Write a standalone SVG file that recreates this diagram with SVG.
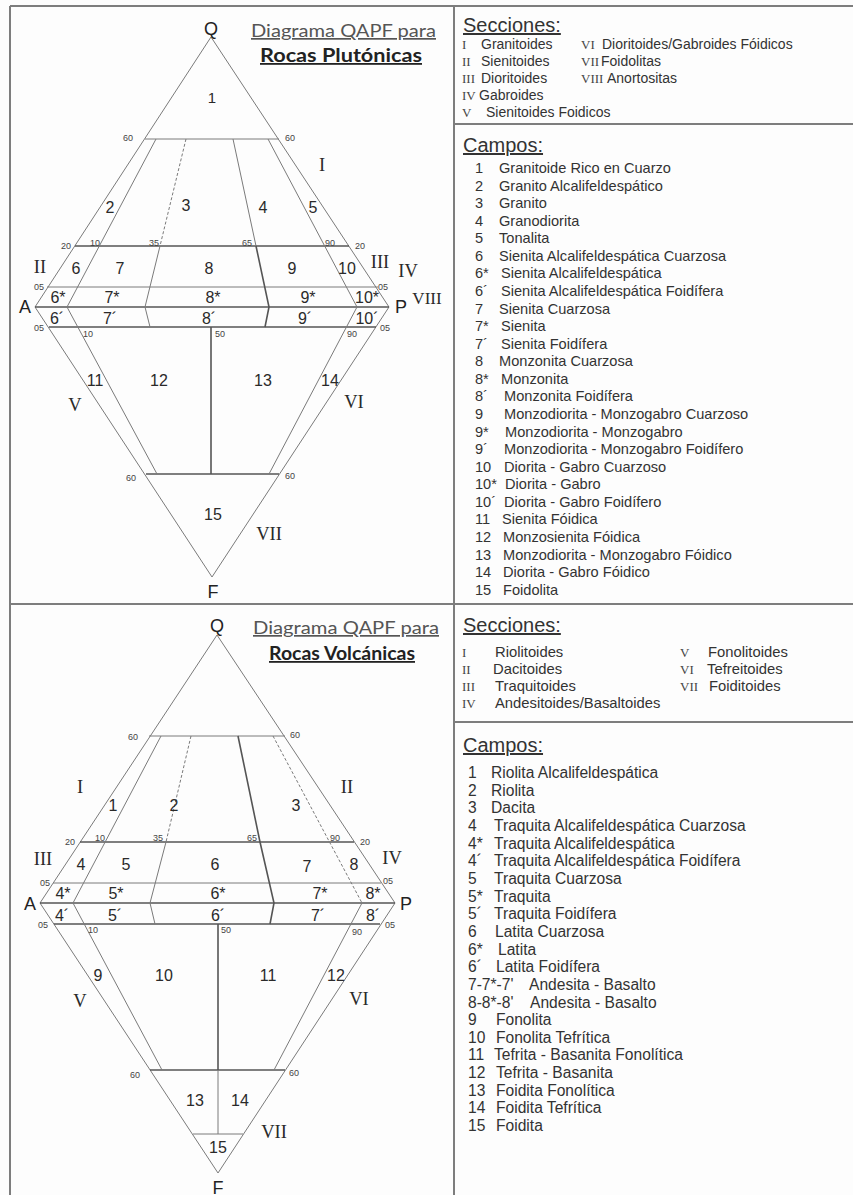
<svg xmlns="http://www.w3.org/2000/svg" width="853" height="1195" viewBox="0 0 853 1195">
<style>
.frame{stroke:#7d7d7d;stroke-width:2;fill:none}
.ln{stroke:#7a7a7a;stroke-width:1;fill:none}
.dk{stroke:#555;stroke-width:1.6;fill:none}
.ds{stroke:#7a7a7a;stroke-width:1;fill:none;stroke-dasharray:3 2}
.num{font-family:"Liberation Sans",Arial,sans-serif;font-size:16px;fill:#2a2a2a;text-anchor:middle}
.sm{font-family:"Liberation Sans",Arial,sans-serif;font-size:9px;fill:#444;text-anchor:middle}
.rom{font-family:"Liberation Serif","Times New Roman",serif;font-size:18.5px;fill:#2a2a2a;text-anchor:middle}
.ltr{font-family:"Liberation Sans",Arial,sans-serif;font-size:18px;fill:#222;text-anchor:middle}
.t1{font-family:Lato,"Open Sans",sans-serif;font-size:17px;fill:#555;text-anchor:middle;text-decoration:underline}
.t2{font-family:Lato,"Open Sans",sans-serif;font-size:18px;font-weight:bold;fill:#222;text-anchor:middle;text-decoration:underline}
.hd{font-family:"Liberation Sans",Arial,sans-serif;font-size:20px;fill:#333;text-decoration:underline}
.sec{font-family:"Liberation Sans",Arial,sans-serif;font-size:14px;fill:#333}
.secr{font-family:"Liberation Serif","Times New Roman",serif;font-size:13px;fill:#444}
.lt{font-family:"Liberation Sans",Arial,sans-serif;font-size:14.6px;fill:#333}
.lb{font-family:"Liberation Sans",Arial,sans-serif;font-size:15.6px;fill:#333}
</style>
<rect x="0" y="0" width="853" height="1195" fill="#fdfdfd"/>
<g id="frame">
<line class="frame" x1="10" y1="6" x2="853" y2="6"/>
<line class="frame" x1="10" y1="6" x2="10" y2="1195"/>
<line class="frame" x1="454" y1="6" x2="454" y2="1195"/>
<line class="frame" x1="10" y1="604" x2="853" y2="604"/>
<line class="frame" x1="454" y1="124" x2="853" y2="124"/>
<line class="frame" x1="454" y1="722" x2="853" y2="722"/>
</g>

<!-- ============ TOP: PLUTONIC ============ -->
<g id="plutonic-lines">
<polygon class="ln" points="211,37 35,307 212,577 389,307"/>
<line class="ln" x1="145" y1="139" x2="279" y2="139"/>
<line class="dk" x1="75" y1="246" x2="349" y2="246"/>
<line class="ln" x1="47" y1="287" x2="378" y2="287"/>
<line class="dk" x1="35" y1="307" x2="389" y2="307"/>
<line class="dk" x1="49" y1="327" x2="376" y2="327"/>
<line class="dk" x1="146" y1="474" x2="279" y2="474"/>
<line class="ln" x1="156" y1="139" x2="67" y2="307"/>
<line class="ln" x1="67" y1="307" x2="157" y2="474"/>
<line class="ln" x1="268" y1="139" x2="357" y2="307"/>
<line class="ln" x1="357" y1="307" x2="269" y2="474"/>
<line class="ds" x1="186" y1="139" x2="160" y2="246"/>
<polyline class="ln" points="160,246 145,307 150,327"/>
<line class="ln" x1="233" y1="139" x2="256" y2="246"/>
<polyline class="dk" points="256,246 269,307 265,327"/>
<line class="dk" x1="211" y1="327" x2="211" y2="474"/>
</g>
<g id="plutonic-vertices">
<text class="ltr" x="211" y="35">Q</text>
<text class="ltr" x="25" y="313">A</text>
<text class="ltr" x="401" y="313">P</text>
<text class="ltr" x="213" y="598">F</text>
</g>
<g id="plutonic-title">
<text class="t1" x="343.5" y="37" textLength="185" lengthAdjust="spacingAndGlyphs">Diagrama QAPF para</text>
<text class="t2" x="341" y="62" textLength="162" lengthAdjust="spacingAndGlyphs">Rocas Plutónicas</text>
</g>
<g id="plutonic-fields">
<text class="num" x="212" y="103" style="font-size:15px">1</text>
<text class="num" x="110" y="213">2</text>
<text class="num" x="186" y="211">3</text>
<text class="num" x="263" y="213">4</text>
<text class="num" x="313" y="213">5</text>
<text class="num" x="76" y="274">6</text>
<text class="num" x="120" y="274">7</text>
<text class="num" x="209" y="274">8</text>
<text class="num" x="292" y="274">9</text>
<text class="num" x="347" y="274">10</text>
<text class="num" x="58" y="303">6*</text>
<text class="num" x="112" y="303">7*</text>
<text class="num" x="213" y="303">8*</text>
<text class="num" x="308" y="303">9*</text>
<text class="num" x="367" y="303">10*</text>
<text class="num" x="57" y="324">6´</text>
<text class="num" x="110" y="324">7´</text>
<text class="num" x="209" y="324">8´</text>
<text class="num" x="305" y="324">9´</text>
<text class="num" x="367" y="324">10´</text>
<text class="num" x="95" y="386">11</text>
<text class="num" x="159" y="386">12</text>
<text class="num" x="263" y="386">13</text>
<text class="num" x="330" y="386">14</text>
<text class="num" x="213" y="520">15</text>
</g>
<g id="plutonic-sections">
<text class="rom" x="322" y="171">I</text>
<text class="rom" x="40" y="273">II</text>
<text class="rom" x="380" y="268">III</text>
<text class="rom" x="408" y="277">IV</text>
<text class="rom" x="427" y="304" style="font-size:17px">VIII</text>
<text class="rom" x="75" y="411">V</text>
<text class="rom" x="354" y="408">VI</text>
<text class="rom" x="269" y="540">VII</text>
</g>
<g id="plutonic-ticks">
<text class="sm" x="128" y="141">60</text>
<text class="sm" x="290" y="141">60</text>
<text class="sm" x="66" y="249">20</text>
<text class="sm" x="95" y="246">10</text>
<text class="sm" x="154" y="246">35</text>
<text class="sm" x="247" y="246">65</text>
<text class="sm" x="330" y="246">90</text>
<text class="sm" x="360" y="249">20</text>
<text class="sm" x="39" y="290">05</text>
<text class="sm" x="383" y="290">05</text>
<text class="sm" x="39" y="331">05</text>
<text class="sm" x="88" y="337">10</text>
<text class="sm" x="220" y="337">50</text>
<text class="sm" x="352" y="337">90</text>
<text class="sm" x="385" y="331">05</text>
<text class="sm" x="131" y="481">60</text>
<text class="sm" x="290" y="479">60</text>
</g>

<g id="plutonic-secciones">
<text class="hd" x="463" y="32">Secciones:</text>
<text class="secr" x="462" y="49">I</text><text class="sec" x="481" y="49">Granitoides</text>
<text class="secr" x="462" y="66">II</text><text class="sec" x="481" y="66">Sienitoides</text>
<text class="secr" x="462" y="83">III</text><text class="sec" x="481" y="83">Dioritoides</text>
<text class="secr" x="462" y="100">IV</text><text class="sec" x="479" y="100">Gabroides</text>
<text class="secr" x="462" y="117">V</text><text class="sec" x="486" y="117">Sienitoides Foidicos</text>
<text class="secr" x="581" y="49">VI</text><text class="sec" x="602" y="49">Dioritoides/Gabroides Fóidicos</text>
<text class="secr" x="581" y="66">VII</text><text class="sec" x="601" y="66">Foidolitas</text>
<text class="secr" x="581" y="83">VIII</text><text class="sec" x="607" y="83">Anortositas</text>
</g>
<g id="plutonic-campos">
<text class="hd" x="463" y="152">Campos:</text>
<text class="lt" x="475" y="173">1</text><text class="lt" x="499" y="173">Granitoide Rico en Cuarzo</text>
<text class="lt" x="475" y="191">2</text><text class="lt" x="499" y="191">Granito Alcalifeldespático</text>
<text class="lt" x="475" y="208">3</text><text class="lt" x="499" y="208">Granito</text>
<text class="lt" x="475" y="226">4</text><text class="lt" x="499" y="226">Granodiorita</text>
<text class="lt" x="475" y="243">5</text><text class="lt" x="499" y="243">Tonalita</text>
<text class="lt" x="475" y="261">6</text><text class="lt" x="499" y="261">Sienita Alcalifeldespática Cuarzosa</text>
<text class="lt" x="475" y="278">6*</text><text class="lt" x="501" y="278">Sienita Alcalifeldespática</text>
<text class="lt" x="475" y="296">6´</text><text class="lt" x="501" y="296">Sienita Alcalifeldespática Foidífera</text>
<text class="lt" x="475" y="314">7</text><text class="lt" x="499" y="314">Sienita Cuarzosa</text>
<text class="lt" x="475" y="331">7*</text><text class="lt" x="501" y="331">Sienita</text>
<text class="lt" x="475" y="349">7´</text><text class="lt" x="501" y="349">Sienita Foidífera</text>
<text class="lt" x="475" y="366">8</text><text class="lt" x="499" y="366">Monzonita Cuarzosa</text>
<text class="lt" x="475" y="384">8*</text><text class="lt" x="501" y="384">Monzonita</text>
<text class="lt" x="475" y="401">8´</text><text class="lt" x="504" y="401">Monzonita Foidífera</text>
<text class="lt" x="475" y="419">9</text><text class="lt" x="504" y="419">Monzodiorita - Monzogabro Cuarzoso</text>
<text class="lt" x="475" y="437">9*</text><text class="lt" x="505" y="437">Monzodiorita - Monzogabro</text>
<text class="lt" x="475" y="454">9´</text><text class="lt" x="504" y="454">Monzodiorita - Monzogabro Foidífero</text>
<text class="lt" x="475" y="472">10</text><text class="lt" x="504" y="472">Diorita - Gabro Cuarzoso</text>
<text class="lt" x="475" y="489">10*</text><text class="lt" x="505" y="489">Diorita - Gabro</text>
<text class="lt" x="475" y="507">10´</text><text class="lt" x="504" y="507">Diorita - Gabro Foidífero</text>
<text class="lt" x="475" y="524">11</text><text class="lt" x="502" y="524">Sienita Fóidica</text>
<text class="lt" x="475" y="542">12</text><text class="lt" x="503" y="542">Monzosienita Fóidica</text>
<text class="lt" x="475" y="560">13</text><text class="lt" x="503" y="560">Monzodiorita - Monzogabro Fóidico</text>
<text class="lt" x="475" y="577">14</text><text class="lt" x="503" y="577">Diorita - Gabro Fóidico</text>
<text class="lt" x="475" y="595">15</text><text class="lt" x="503" y="595">Foidolita</text>
</g>

<!-- ============ BOTTOM: VOLCANIC ============ -->
<g id="volcanic-lines">
<polygon class="ln" points="217,635 40,903 218,1173 395,903"/>
<line class="ln" x1="149" y1="736" x2="285" y2="736"/>
<line class="dk" x1="80" y1="842" x2="354" y2="842"/>
<line class="ln" x1="53" y1="883" x2="381" y2="883"/>
<line class="dk" x1="40" y1="903" x2="395" y2="903"/>
<line class="dk" x1="54" y1="924" x2="380" y2="924"/>
<line class="dk" x1="150" y1="1070" x2="285" y2="1070"/>
<line class="ln" x1="193" y1="1134" x2="243" y2="1134"/>
<line class="ln" x1="161" y1="736" x2="73" y2="903"/>
<line class="ln" x1="73" y1="903" x2="162" y2="1070"/>
<line class="ds" x1="273" y1="736" x2="362" y2="903"/>
<line class="ln" x1="362" y1="903" x2="274" y2="1070"/>
<line class="ds" x1="191" y1="736" x2="166" y2="842"/>
<polyline class="ln" points="166,842 150,903 155,924"/>
<polyline class="dk" points="238,736 260,842 274,903 270,924"/>
<line class="dk" x1="218" y1="924" x2="218" y2="1070"/>
<line class="ln" x1="218" y1="1070" x2="218" y2="1134"/>
</g>
<g id="volcanic-vertices">
<text class="ltr" x="217" y="632">Q</text>
<text class="ltr" x="30" y="910">A</text>
<text class="ltr" x="406" y="910">P</text>
<text class="ltr" x="218" y="1194">F</text>
</g>
<g id="volcanic-title">
<text class="t1" x="346" y="634" textLength="186" lengthAdjust="spacingAndGlyphs">Diagrama QAPF para</text>
<text class="t2" x="342" y="660" textLength="146" lengthAdjust="spacingAndGlyphs">Rocas Volcánicas</text>
</g>
<g id="volcanic-fields">
<text class="num" x="113" y="811">1</text>
<text class="num" x="174" y="811">2</text>
<text class="num" x="296" y="811">3</text>
<text class="num" x="81" y="870">4</text>
<text class="num" x="126" y="870">5</text>
<text class="num" x="215" y="870">6</text>
<text class="num" x="307" y="872">7</text>
<text class="num" x="354" y="870">8</text>
<text class="num" x="63" y="899">4*</text>
<text class="num" x="116" y="899">5*</text>
<text class="num" x="218" y="899">6*</text>
<text class="num" x="320" y="899">7*</text>
<text class="num" x="373" y="899">8*</text>
<text class="num" x="62" y="921">4´</text>
<text class="num" x="115" y="921">5´</text>
<text class="num" x="218" y="921">6´</text>
<text class="num" x="318" y="921">7´</text>
<text class="num" x="373" y="921">8´</text>
<text class="num" x="98" y="981">9</text>
<text class="num" x="164" y="981">10</text>
<text class="num" x="268" y="981">11</text>
<text class="num" x="336" y="981">12</text>
<text class="num" x="195" y="1106">13</text>
<text class="num" x="240" y="1106">14</text>
<text class="num" x="218" y="1153">15</text>
</g>
<g id="volcanic-sections">
<text class="rom" x="80" y="793">I</text>
<text class="rom" x="347" y="793">II</text>
<text class="rom" x="43" y="865">III</text>
<text class="rom" x="392" y="864">IV</text>
<text class="rom" x="80" y="1007">V</text>
<text class="rom" x="359" y="1005">VI</text>
<text class="rom" x="274" y="1138">VII</text>
</g>
<g id="volcanic-ticks">
<text class="sm" x="133" y="740">60</text>
<text class="sm" x="295" y="738">60</text>
<text class="sm" x="70" y="845">20</text>
<text class="sm" x="100" y="841">10</text>
<text class="sm" x="158" y="841">35</text>
<text class="sm" x="252" y="841">65</text>
<text class="sm" x="335" y="841">90</text>
<text class="sm" x="365" y="845">20</text>
<text class="sm" x="45" y="886">05</text>
<text class="sm" x="388" y="884">05</text>
<text class="sm" x="43" y="928">05</text>
<text class="sm" x="93" y="933">10</text>
<text class="sm" x="226" y="933">50</text>
<text class="sm" x="357" y="935">90</text>
<text class="sm" x="390" y="928">05</text>
<text class="sm" x="135" y="1078">60</text>
<text class="sm" x="294" y="1076">60</text>
</g>

<g id="volcanic-secciones">
<text class="hd" x="463" y="632">Secciones:</text>
<text class="secr" x="462" y="657">I</text><text class="sec" x="495" y="657" style="font-size:14.8px">Riolitoides</text>
<text class="secr" x="462" y="674">II</text><text class="sec" x="493" y="674" style="font-size:14.8px">Dacitoides</text>
<text class="secr" x="462" y="691">III</text><text class="sec" x="495" y="691" style="font-size:14.8px">Traquitoides</text>
<text class="secr" x="462" y="708">IV</text><text class="sec" x="495" y="708" style="font-size:14.8px">Andesitoides/Basaltoides</text>
<text class="secr" x="680" y="657">V</text><text class="sec" x="708" y="657" style="font-size:14.8px">Fonolitoides</text>
<text class="secr" x="680" y="674">VI</text><text class="sec" x="707" y="674" style="font-size:14.8px">Tefreitoides</text>
<text class="secr" x="680" y="691">VII</text><text class="sec" x="709" y="691" style="font-size:14.8px">Foiditoides</text>
</g>
<g id="volcanic-campos">
<text class="hd" x="463" y="752">Campos:</text>
<text class="lb" x="468" y="778">1</text><text class="lb" x="491" y="778">Riolita Alcalifeldespática</text>
<text class="lb" x="468" y="796">2</text><text class="lb" x="491" y="796">Riolita</text>
<text class="lb" x="468" y="813">3</text><text class="lb" x="491" y="813">Dacita</text>
<text class="lb" x="468" y="831">4</text><text class="lb" x="494" y="831">Traquita Alcalifeldespática Cuarzosa</text>
<text class="lb" x="468" y="849">4*</text><text class="lb" x="494" y="849">Traquita Alcalifeldespática</text>
<text class="lb" x="468" y="866">4´</text><text class="lb" x="494" y="866">Traquita Alcalifeldespática Foidífera</text>
<text class="lb" x="468" y="884">5</text><text class="lb" x="494" y="884">Traquita Cuarzosa</text>
<text class="lb" x="468" y="902">5*</text><text class="lb" x="494" y="902">Traquita</text>
<text class="lb" x="468" y="919">5´</text><text class="lb" x="494" y="919">Traquita Foidífera</text>
<text class="lb" x="468" y="937">6</text><text class="lb" x="495" y="937">Latita Cuarzosa</text>
<text class="lb" x="468" y="955">6*</text><text class="lb" x="498" y="955">Latita</text>
<text class="lb" x="468" y="972">6´</text><text class="lb" x="496" y="972">Latita Foidífera</text>
<text class="lb" x="468" y="990">7-7*-7'</text><text class="lb" x="529" y="990">Andesita - Basalto</text>
<text class="lb" x="468" y="1008">8-8*-8'</text><text class="lb" x="530" y="1008">Andesita - Basalto</text>
<text class="lb" x="468" y="1025">9</text><text class="lb" x="496" y="1025">Fonolita</text>
<text class="lb" x="468" y="1043">10</text><text class="lb" x="496" y="1043">Fonolita Tefrítica</text>
<text class="lb" x="468" y="1060">11</text><text class="lb" x="494" y="1060">Tefrita - Basanita Fonolítica</text>
<text class="lb" x="468" y="1078">12</text><text class="lb" x="496" y="1078">Tefrita - Basanita</text>
<text class="lb" x="468" y="1096">13</text><text class="lb" x="496" y="1096">Foidita Fonolítica</text>
<text class="lb" x="468" y="1113">14</text><text class="lb" x="496" y="1113">Foidita Tefrítica</text>
<text class="lb" x="468" y="1131">15</text><text class="lb" x="496" y="1131">Foidita</text>
</g>
</svg>
